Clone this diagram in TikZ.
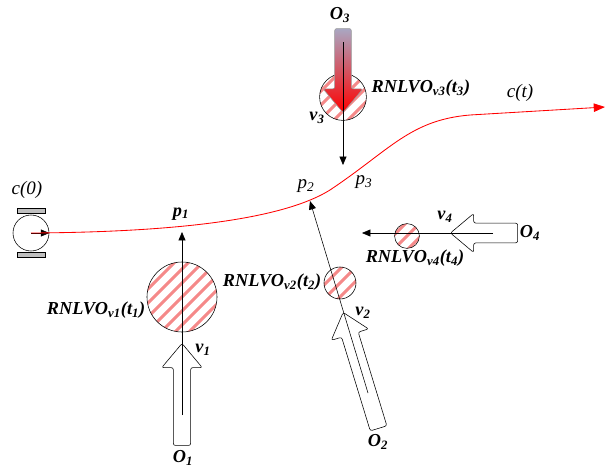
\documentclass[tikz,border=0pt]{standalone}
\usepackage{fontspec}
\setmainfont{Liberation Serif}
\usetikzlibrary{arrows.meta,positioning,shapes.arrows,calc}
\definecolor{trackred}{HTML}{FF0000}
\definecolor{hatchred}{HTML}{F26B6B}
\definecolor{barfill}{HTML}{BFBFBF}
\definecolor{topgrey}{HTML}{A9A7C2}

\begin{document}
\begin{tikzpicture}[
x=0.025cm, y=-0.025cm,
lbl/.style={font=\fontsize{13}{15}\selectfont\bfseries\itshape, inner sep=1pt},
plainlbl/.style={font=\fontsize{13.5}{15}\selectfont\itshape, inner sep=1pt},
zone/.style={circle, draw, inner sep=0pt, path picture={
  \foreach \k in {-84,-70,...,84}
    \draw[hatchred, line width=2.2pt, opacity=0.8] ([shift={(\k,0)}]path picture bounding box.center) ++(-60,60) -- ++(120,-120);}},
motion/.style={single arrow, draw, fill=white, inner xsep=0pt, minimum width=0pt, rounded corners=1.5pt, anchor=tip, single arrow tip angle=80},
ray/.style={-{Triangle[length=6pt,width=5pt]}, thin},
track/.style={trackred, semithick, -{Triangle[length=8pt,width=6pt]}},
bar/.style={rectangle, draw, fill=barfill, minimum width=0.7cm, minimum height=0.13cm, inner sep=0pt}
]
\useasboundingbox (0,0) rectangle (608,468);

% --- Robot at c(0) ---
\node (rob) [circle, draw, minimum size=0.9cm, inner sep=0pt] at (31,233) {};
\node (barT) [bar, above=0.5pt of rob] {};
\node (barB) [bar, below=0.5pt of rob] {};
\draw [-{Triangle[length=6pt,width=5pt]}] (rob.center) -- (rob.east);
\node (c0lbl) [plainlbl] at (27,190) {c(0)};

% --- Obstacle motions ---
\node (a1) [motion, rotate=90, minimum height=2.55cm, inner ysep=0.21cm, single arrow head extend=0.29cm] at (182,343) {};
\node (a2) [motion, rotate=107, minimum height=3.03cm, inner ysep=0.21cm, single arrow head extend=0.27cm] at (343,312) {};
\node (a4) [motion, rotate=180, minimum height=1.68cm, inner ysep=0.24cm, single arrow head extend=0.24cm] at (450,233) {};

% --- Reachable zones ---
\node (z1) [zone, minimum size=1.75cm] at (182,297) {};
\node (z2) [zone, minimum size=0.8cm] at (340,283) {};
\node (z3) [zone, minimum size=1.17cm] at (343,97) {};
\node (z4) [zone, minimum size=0.62cm] at (407,236) {};

\node (a3) [motion, rotate=-90, draw=gray!80, top color=topgrey, bottom color=red, minimum height=2.1cm, inner ysep=0.2cm, single arrow head extend=0.29cm] at (343,113) {};

% --- Planned path ---
\coordinate (cend) at (605,107);
\draw [track] (rob.center) .. controls (200,232) and (290,215) .. (330,190) .. controls (390,150) and (410,120) .. (470,115) -- (cend);

% --- Rays to the path ---
\coordinate (s1) at (182,415);
\coordinate (hit1) at (182,232);
\coordinate (s2) at (368,393);
\coordinate (hit2) at (310,201);
\coordinate (s3) at (343,42);
\coordinate (hit3) at (343,165);
\coordinate (s4) at (493,233);
\coordinate (hit4) at (362,233);
\draw [ray] (s1) -- (hit1);
\draw [ray] (s2) -- (hit2);
\draw [ray] (s3) -- (hit3);
\draw [ray] (s4) -- (hit4);

% --- Labels ---
\node (ctlbl) [plainlbl] at (520,93) {c(t)};
\node (p1lbl) [lbl] at (181,214) {p\textsubscript{1}};
\node (p2lbl) [plainlbl] at (306,186) {p\textsubscript{2}};
\node (p3lbl) [plainlbl] at (364,182) {p\textsubscript{3}};
\node (r1lbl) [lbl, anchor=east] at (147,310) {RNLVO\textsubscript{v1}(t\textsubscript{1})};
\node (r2lbl) [lbl, anchor=east] at (323,282) {RNLVO\textsubscript{v2}(t\textsubscript{2})};
\node (r3lbl) [lbl, anchor=west] at (370,88) {RNLVO\textsubscript{v3}(t\textsubscript{3})};
\node (r4lbl) [lbl] at (415,258) {RNLVO\textsubscript{v4}(t\textsubscript{4})};
\node (v1lbl) [lbl] at (203,350) {v\textsubscript{1}};
\node (v2lbl) [lbl] at (363,313) {v\textsubscript{2}};
\node (v3lbl) [lbl] at (317,118) {v\textsubscript{3}};
\node (v4lbl) [lbl] at (445,217) {v\textsubscript{4}};
\node (o1lbl) [lbl] at (183,458) {O\textsubscript{1}};
\node (o2lbl) [lbl] at (378,442) {O\textsubscript{2}};
\node (o3lbl) [lbl] at (340,15) {O\textsubscript{3}};
\node (o4lbl) [lbl] at (530,233) {O\textsubscript{4}};

\end{tikzpicture}
\end{document}
